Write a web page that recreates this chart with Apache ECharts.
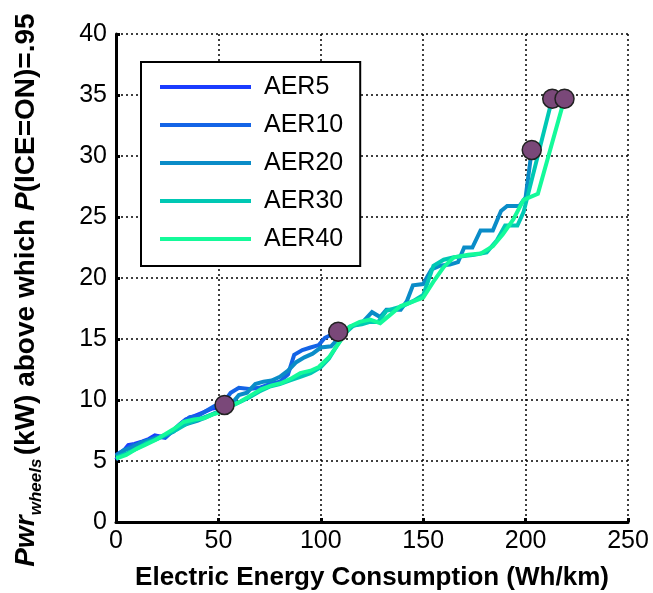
<!DOCTYPE html>
<html>
<head>
<meta charset="utf-8">
<script src="https://cdn.jsdelivr.net/npm/echarts@6/dist/echarts.min.js"></script>
<style>
  html, body { margin: 0; padding: 0; background: #fff; }
  #chart { width: 653px; height: 593px; }
</style>
</head>
<body>
<div id="chart"></div>
<script>
// series names / colours
let seriesNames = ['AER5', 'AER10', 'AER20', 'AER30', 'AER40']
let seriesColors = ['#1a3cff', '#1464e6', '#0a8cc8', '#00c8b4', '#14fa9a']

// [energy (Wh/km), power (kW)]
let aer5 = [[0, 5.1], [3, 5.7], [6, 6.3], [9, 6.4], [13, 6.6], [16, 6.8], [19, 7.1], [22, 7.0], [25, 7.2], [28, 7.5],
  [31, 8.0], [34, 8.4], [37, 8.6], [40, 8.8], [43, 9.0], [47, 9.3], [50, 9.4], [53, 9.6]]
let aer10 = [[0, 5.5], [4, 5.9], [8, 6.3], [12, 6.4], [16, 6.7], [20, 7.0], [24, 6.9], [28, 7.5], [32, 8.1], [36, 8.6],
  [40, 8.7], [44, 9.1], [48, 9.5], [52, 9.7], [56, 10.6], [60, 11.0], [65, 10.9], [70, 11.0], [75, 11.3], [80, 11.5],
  [84, 12.1], [87, 13.7], [91, 14.1], [95, 14.3], [99, 14.5], [102, 15.1], [108.5, 15.6]]
let aer20 = [[0, 5.4], [4, 5.9], [8, 6.1], [12, 6.5], [16, 6.7], [20, 6.9], [24, 7.1], [28, 7.4], [32, 7.9], [36, 8.1],
  [40, 8.3], [44, 8.6], [48, 8.9], [52, 9.2], [56, 9.6], [60, 10.4], [64, 10.6], [68, 11.3], [72, 11.5], [76, 11.6],
  [80, 11.9], [84, 12.4], [88, 13.1], [92, 13.5], [96, 13.8], [100, 14.3], [105, 14.4], [110, 15.3], [114, 16.0],
  [120, 16.3], [125, 17.2], [129, 16.8], [132, 17.4], [139, 17.4], [142, 18.1], [145, 19.4], [150, 19.5], [154, 20.7],
  [158, 21.0], [163, 21.1], [167, 21.3], [170, 22.5], [174, 22.5], [178, 23.9], [184, 23.9], [188, 25.5], [191, 25.9],
  [197, 25.9], [200, 26.6], [203, 30.5]]
let aer30 = [[0, 5.3], [5, 5.6], [10, 6.0], [15, 6.5], [20, 6.8], [25, 7.2], [30, 7.6], [35, 8.1], [40, 8.4], [45, 8.7],
  [50, 9.0], [55, 9.4], [60, 9.8], [65, 10.2], [70, 10.7], [75, 11.1], [80, 11.3], [85, 11.6], [90, 11.9], [95, 12.2],
  [100, 12.7], [104, 13.4], [108, 14.5], [112, 15.5], [116, 16.1], [120, 16.2], [124, 16.4], [128, 16.4], [132, 17.3],
  [136, 17.5], [140, 17.7], [145, 18.1], [150, 18.6], [155, 21.0], [160, 21.5], [165, 21.7], [170, 21.8], [175, 21.9],
  [181, 22.1], [186, 23.1], [190, 24.3], [196, 24.3], [199, 25.4], [213, 34.7]]
let aer40 = [[0, 5.2], [5, 5.5], [10, 6.0], [14, 6.3], [19, 6.7], [23, 7.1], [28, 7.6], [33, 8.2], [38, 8.4], [43, 8.5],
  [47, 8.8], [51, 9.0], [56, 9.5], [61, 9.9], [66, 10.4], [71, 10.9], [76, 11.2], [81, 11.4], [86, 11.8], [90, 12.2],
  [95, 12.4], [99, 12.7], [104, 13.5], [109, 14.7], [114, 16.0], [119, 16.4], [124, 16.6], [129, 16.3], [134, 17.0],
  [139, 17.7], [144, 18.0], [150, 18.4], [155, 19.7], [160, 20.9], [165, 21.7], [172, 21.9], [178, 22.0], [184, 22.6],
  [189, 23.6], [194, 24.8], [199, 26.4], [206, 26.9], [219, 34.7]]

// axis ticks
let xTicks = { min: 0, max: 250, interval: 50 }
let yTicks = { min: 0, max: 40, interval: 5 }

let seriesData = [aer5, aer10, aer20, aer30, aer40]
let font = 'Liberation Sans, Arial, Helvetica, sans-serif'

let chart = echarts.init(document.getElementById('chart'))

let series = seriesData.map((d, i) => ({
  name: seriesNames[i],
  type: 'line',
  data: d,
  showSymbol: false,
  symbol: 'none',
  lineStyle: { width: 4, color: seriesColors[i], join: 'miter' },
  itemStyle: { color: seriesColors[i] },
  z: 3
}))

// end point markers
series.push({
  name: 'end',
  type: 'scatter',
  data: seriesData.map(d => d[d.length - 1]),
  symbolSize: 19,
  itemStyle: { color: '#7a4879', borderColor: '#222', borderWidth: 1.5, opacity: 1 },
  z: 5
})

let option = {
  animation: false,
  backgroundColor: '#fff',
  grid: { left: 116, right: 25, top: 34, bottom: 71, outerBoundsMode: 'none' },
  legend: {
    data: seriesNames.map(n => ({ name: n, icon: 'rect' })),
    orient: 'vertical',
    left: 141,
    top: 62,
    itemWidth: 91,
    itemHeight: 4,
    itemGap: 10,
    padding: [11, 17, 13, 19],
    borderColor: '#000',
    borderWidth: 2,
    backgroundColor: '#fff',
    textStyle: { fontSize: 25, lineHeight: 28, color: '#000', fontFamily: font, padding: [0, 0, 0, 8] }
  },
  xAxis: {
    type: 'value',
    min: xTicks.min,
    max: xTicks.max,
    interval: xTicks.interval,
    name: 'Electric Energy Consumption (Wh/km)',
    nameLocation: 'middle',
    nameGap: 43,
    nameTextStyle: { fontSize: 26, fontWeight: 'bold', color: '#000', fontFamily: font },
    axisLine: { show: true, lineStyle: { color: '#000', width: 3 } },
    axisTick: { show: true, inside: true, length: 4, lineStyle: { color: '#000', width: 3 } },
    axisLabel: { fontSize: 25, color: '#000', fontFamily: font, margin: 7 },
    splitLine: { show: true, lineStyle: { color: '#000', width: 1.5, type: [2, 3] } }
  },
  yAxis: {
    type: 'value',
    min: yTicks.min,
    max: yTicks.max,
    interval: yTicks.interval,
    name: '{it|Pwr}{sub|wheels} {b|(kW) above which }{it|P}{b|(ICE=ON)=.95}',
    nameLocation: 'middle',
    nameGap: 71,
    nameRotate: 90,
    nameTextStyle: {
      padding: [0, 24, 0, 0],
      rich: {
        it: { fontSize: 28, fontWeight: 'bold', fontStyle: 'italic', color: '#000', fontFamily: font },
        b: { fontSize: 28, fontWeight: 'bold', color: '#000', fontFamily: font },
        sub: { fontSize: 17, fontWeight: 'bold', fontStyle: 'italic', color: '#000', fontFamily: font, padding: [20, 0, 0, 0] }
      }
    },
    axisLine: { show: true, lineStyle: { color: '#000', width: 3 } },
    axisTick: { show: true, inside: true, length: 4, lineStyle: { color: '#000', width: 3 } },
    axisLabel: { fontSize: 25, color: '#000', fontFamily: font, margin: 9 },
    splitLine: { show: true, lineStyle: { color: '#000', width: 1.5, type: [2, 3] } }
  },
  series: series
}

chart.setOption(option)
</script>
</body>
</html>
